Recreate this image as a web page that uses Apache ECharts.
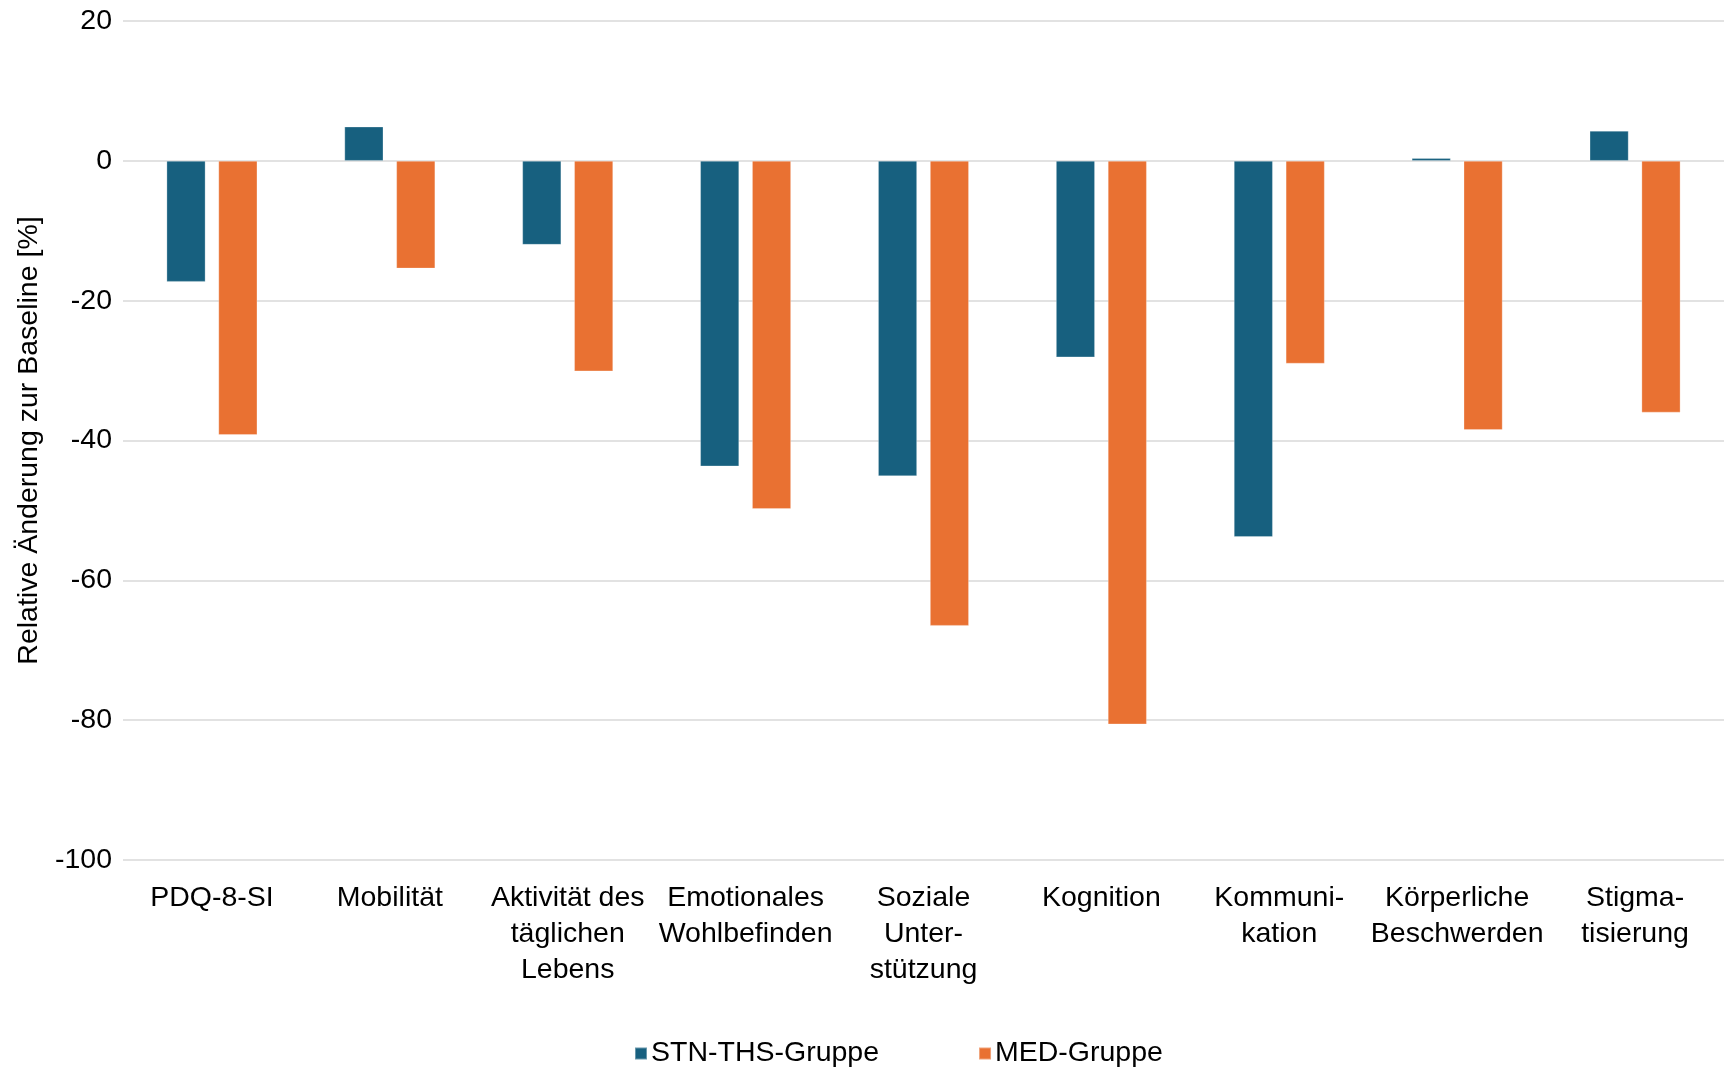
<!DOCTYPE html>
<html lang="de">
<head>
<meta charset="utf-8">
<title>Relative Änderung zur Baseline</title>
<script src="https://cdn.jsdelivr.net/npm/echarts@6/dist/echarts.min.js"></script>
<style>
  html, body { margin: 0; padding: 0; background: #ffffff; }
  #chart { width: 1731px; height: 1069px; }
</style>
</head>
<body>
<div id="chart"></div>
<script>
// PDQ-8 domains (tick labels, with manual line breaks)
const categories = [
  'PDQ-8-SI',
  'Mobilität',
  'Aktivität des\ntäglichen\nLebens',
  'Emotionales\nWohlbefinden',
  'Soziale\nUnter-\nstützung',
  'Kognition',
  'Kommuni-\nkation',
  'Körperliche\nBeschwerden',
  'Stigma-\ntisierung'
];

const seriesNames = ['STN-THS-Gruppe', 'MED-Gruppe'];

// Relative change from baseline in percent
const stnValues = [-17.3, 4.9, -12.0, -43.7, -45.1, -28.1, -53.8, 0.4, 4.3];
const medValues = [-39.2, -15.4, -30.1, -49.8, -66.5, -80.6, -29.0, -38.5, -36.0];

// Value axis settings
const yMin = -100;
const yMax = 20;
const yStep = 20;

const textColor = '#000000';
const fontFamily = '"Liberation Sans", Arial, sans-serif';
const fontSize = 28.5;
const colors = ['#17607F', '#E97132'];

const chart = echarts.init(document.getElementById('chart'), null, { renderer: 'canvas' });

chart.setOption({
  animation: false,
  backgroundColor: '#ffffff',
  textStyle: { fontFamily: fontFamily, color: textColor },
  grid: {
    left: 123,
    right: 7,
    top: 21,
    bottom: 209,
    containLabel: false,
    outerBoundsMode: 'none'
  },
  legend: {
    data: seriesNames,
    left: 629,
    top: 1034,
    itemWidth: 12,
    itemHeight: 12,
    itemGap: 99,
    icon: 'rect',
    textStyle: { fontSize: fontSize, color: textColor, fontFamily: fontFamily, padding: [0, 0, 0, -1] }
  },
  xAxis: {
    type: 'category',
    data: categories,
    axisLine: { show: false },
    axisTick: { show: false },
    splitLine: { show: false },
    axisLabel: {
      interval: 0,
      margin: 20,
      fontSize: fontSize,
      lineHeight: 36,
      color: textColor,
      fontFamily: fontFamily,
      align: 'center'
    }
  },
  yAxis: {
    type: 'value',
    min: yMin,
    max: yMax,
    interval: yStep,
    name: 'Relative Änderung zur Baseline [%]',
    nameLocation: 'middle',
    nameRotate: 90,
    nameGap: 73,
    nameTextStyle: { fontSize: fontSize, color: textColor, fontFamily: fontFamily },
    axisLine: { show: false },
    axisTick: { show: false },
    axisLabel: {
      margin: 11,
      fontSize: fontSize,
      color: textColor,
      fontFamily: fontFamily
    },
    splitLine: {
      show: true,
      lineStyle: { color: '#D9D9D9', width: 1.5 }
    }
  },
  series: [
    {
      name: seriesNames[0],
      type: 'bar',
      data: stnValues,
      barWidth: 39,
      barGap: '33%',
      itemStyle: { color: colors[0], borderColor: 'rgba(255,255,255,0.35)', borderWidth: 0.8 }
    },
    {
      name: seriesNames[1],
      type: 'bar',
      data: medValues,
      barWidth: 39,
      barGap: '33%',
      itemStyle: { color: colors[1], borderColor: 'rgba(255,255,255,0.35)', borderWidth: 0.8 }
    }
  ]
});
</script>
</body>
</html>
